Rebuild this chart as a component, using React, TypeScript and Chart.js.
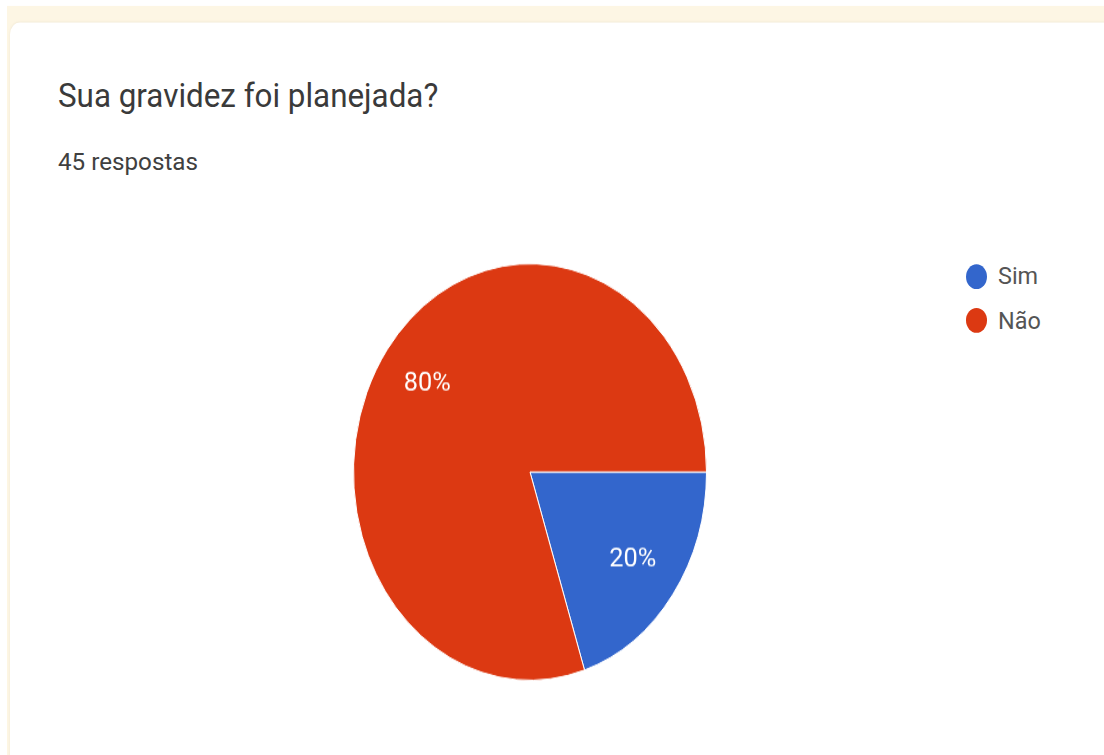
import React, { useEffect, useRef } from "react";
import { Chart, registerables } from "chart.js";

Chart.register(...registerables);

const title = "Sua gravidez foi planejada?";
const subtitle = "45 respostas";
const categories = ["Sim", "Não"];
const values = [9, 36];
const colors = ["#3366CC", "#DC3912"];

const SY = 1.18;

const pctLabels = {
  id: "pctLabels",
  afterDatasetsDraw(chart: any) {
    const ctx = chart.ctx;
    const meta = chart.getDatasetMeta(0);
    const data = chart.data.datasets[0].data as number[];
    const total = data.reduce((a, b) => a + b, 0);
    ctx.save();
    ctx.font = "22px Roboto";
    ctx.fillStyle = "#ffffff";
    ctx.textAlign = "center";
    ctx.textBaseline = "middle";
    meta.data.forEach((arc: any, i: number) => {
      const p = arc.getProps(["x", "y", "startAngle", "endAngle", "outerRadius"], true);
      const mid = (p.startAngle + p.endAngle) / 2;
      const r = p.outerRadius * 0.72;
      const pct = Math.round((data[i] / total) * 100) + "%";
      ctx.save();
      ctx.translate(p.x + Math.cos(mid) * r, p.y + Math.sin(mid) * r);
      ctx.scale(1.15, 1);
      ctx.fillText(pct, 0, 0);
      ctx.restore();
    });
    ctx.restore();
  },
};

export default function App() {
  const ref = useRef<HTMLCanvasElement | null>(null);
  useEffect(() => {
    if (!ref.current) return;
    const chart = new Chart(ref.current, {
      type: "pie",
      data: {
        labels: categories,
        datasets: [
          {
            data: values,
            backgroundColor: colors,
            borderColor: "#ffffff",
            borderWidth: 1,
            hoverOffset: 0,
          },
        ],
      },
      options: {
        animation: false,
        responsive: true,
        maintainAspectRatio: false,
        rotation: 90,
        layout: { padding: 0 },
        plugins: {
          legend: { display: false },
          tooltip: { enabled: false },
        },
      },
      plugins: [pctLabels],
    });
    return () => chart.destroy();
  }, []);

  const font = "Roboto, 'Noto Sans', sans-serif";
  const wide = (sx: number): React.CSSProperties => ({
    display: "inline-block",
    transform: `scaleX(${sx})`,
    transformOrigin: "0 0",
  });
  return (
    <div
      style={{
        position: "fixed",
        left: 0,
        top: 0,
        width: 1104,
        height: 755,
        overflow: "hidden",
        background: "#ffffff",
      }}
    >
      <div
        style={{
          position: "absolute",
          left: 0,
          top: 0,
          width: 1104,
          height: 755 / SY,
          transform: `scaleY(${SY})`,
          transformOrigin: "0 0",
        }}
      >
        <div
          style={{
            position: "absolute",
            left: 7,
            top: 5,
            right: 0,
            bottom: 0,
            background: "#fdf6e4",
          }}
        />
        <div
          style={{
            position: "absolute",
            left: 10,
            top: 19,
            right: -20,
            bottom: -20,
            background: "#ffffff",
            borderRadius: 10,
            boxShadow: "0 0 2px rgba(230,220,200,0.6)",
          }}
        />
        <div
          style={{
            position: "absolute",
            left: 58,
            top: 68,
            fontFamily: font,
            fontSize: 28,
            lineHeight: 1,
            color: "#3a3a3a",
            whiteSpace: "nowrap",
          }}
        >
          <span style={wide(1.12)}>{title}</span>
        </div>
        <div
          style={{
            position: "absolute",
            left: 58,
            top: 127,
            fontFamily: font,
            fontSize: 20,
            lineHeight: 1,
            color: "#404040",
            whiteSpace: "nowrap",
          }}
        >
          <span style={wide(1.21)}>{subtitle}</span>
        </div>
        <div
          style={{
            position: "absolute",
            left: 530 - 177,
            top: 399.6 - 177,
            width: 354,
            height: 354,
          }}
        >
          <canvas ref={ref} />
        </div>
        {categories.map((c, i) => (
          <div
            key={c}
            style={{
              position: "absolute",
              left: 966,
              top: 223 + i * 37.5,
              height: 22,
              display: "flex",
              alignItems: "center",
              fontFamily: font,
              fontSize: 20,
              lineHeight: 1,
              color: "#555555",
              whiteSpace: "nowrap",
            }}
          >
            <span
              style={{
                display: "inline-block",
                width: 21,
                height: 21,
                borderRadius: "50%",
                background: colors[i],
                marginRight: 11,
                flex: "none",
              }}
            />
            <span style={wide(1.17)}>{c}</span>
          </div>
        ))}
      </div>
    </div>
  );
}
